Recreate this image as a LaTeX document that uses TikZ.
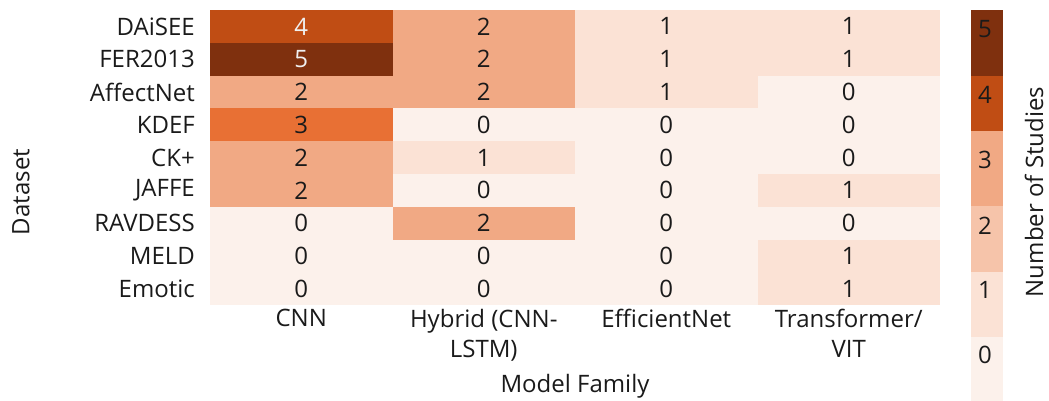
\documentclass[tikz,border=0pt]{standalone}
\usepackage{fontspec}
\setmainfont{Open Sans}
\definecolor{v0}{HTML}{FCF1EB}
\definecolor{v1}{HTML}{FBE2D5}
\definecolor{v2}{HTML}{F1A984}
\definecolor{v3}{HTML}{E87034}
\definecolor{v4}{HTML}{C04D14}
\definecolor{v5}{HTML}{7F300E}
\definecolor{b2}{HTML}{F6C4AA}
\definecolor{txt}{HTML}{1A1A1A}
\tikzset{
  cell/.style={draw=none, inner sep=0pt, minimum width=182.5pt, minimum height=32.8pt, text=txt},
  darkcell/.style={cell, text=white!94!black},
  rowlab/.style={anchor=east, inner sep=0pt, text=txt},
  collab/.style={anchor=north, inner sep=0pt, align=center, text=txt},
  axlab/.style={inner sep=0pt, text=txt},
  barseg/.style={draw=none, inner sep=0pt, minimum width=32pt, anchor=north},
  barlab/.style={inner sep=0pt, text=txt}
}
\begin{document}
\begin{tikzpicture}[x=1pt, y=-1pt, font=\fontsize{24}{30}\selectfont]
\useasboundingbox (0,0) rectangle (1049,401);
% heatmap cells: row label / counts per model family
\foreach \lab/\a/\b/\c/\d [count=\r] in {
  DAiSEE/4/2/1/1, FER2013/5/2/1/1, AffectNet/2/2/1/0, KDEF/3/0/0/0,
  CK+/2/1/0/0, JAFFE/2/0/0/1, RAVDESS/0/2/0/0, MELD/0/0/0/1, Emotic/0/0/0/1}{
  \pgfmathsetmacro{\yc}{10+32.8*(\r-0.5)}
  \node[rowlab] (row\r) at (195,\yc) {\lab};
  \foreach \v [count=\k] in {\a,\b,\c,\d}{
    \pgfmathsetmacro{\xc}{210+182.5*(\k-0.5)}
    \ifnum\v>3
      \node[darkcell, fill=v\v] (cell\r-\k) at (\xc,\yc) {\v};
    \else
      \node[cell, fill=v\v] (cell\r-\k) at (\xc,\yc) {\v};
    \fi
  }
}
% column labels
\node[collab] (col1) at (301.25,309) {CNN};
\node[collab] (col2) at (483.75,309) {Hybrid (CNN-\\LSTM)};
\node[collab] (col3) at (666.25,309) {EfficientNet};
\node[collab] (col4) at (848.75,309) {Transformer/\\VIT};
\node[axlab] (xlab) at (575,386) {Model Family};
\node[axlab, rotate=90] (ylab) at (21,192) {Dataset};
% colour bar
\foreach \top/\bot/\col/\val/\ly [count=\i] in {
  10/76/v5/5/29, 76/131/v4/4/95, 131/206/v2/3/160,
  206/272/b2/2/226, 272/337/v1/1/290, 337/401/v0/0/355}{
  \pgfmathsetmacro{\h}{\bot-\top}
  \node[barseg, fill=\col, minimum height=\h pt] (seg\i) at (987,\top) {};
  \node[barlab] (tick\i) at (985,\ly) {\val};
}
\node[axlab, rotate=90] (cblab) at (1034,192) {Number of Studies};
\end{tikzpicture}
\end{document}
